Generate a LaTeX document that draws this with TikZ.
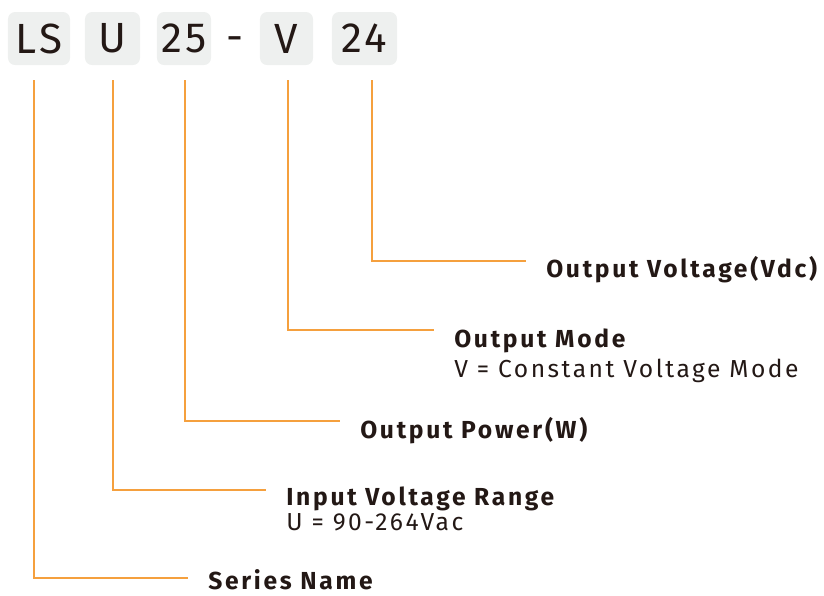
\documentclass[tikz,border=0pt]{standalone}
\usepackage{fontspec}
\setmainfont{Fira Sans}
\usetikzlibrary{positioning}
\definecolor{leadcol}{RGB}{245,160,62}
\definecolor{boxcol}{RGB}{238,240,239}
\definecolor{inkcol}{RGB}{35,24,21}

\begin{document}
\begin{tikzpicture}[
  x=0.025cm, y=-0.025cm,
  codebox/.style={rectangle, fill=boxcol, rounded corners=5pt, inner sep=0pt,
                  minimum height=1.325cm, minimum width=#1,
                  font=\fontsize{30}{30}\selectfont\addfontfeature{LetterSpace=8}, text=inkcol},
  ttl/.style={anchor=base west, inner sep=0pt, text=inkcol,
              font=\fontsize{17.5}{20}\selectfont\bfseries\addfontfeature{LetterSpace=11}},
  desc/.style={anchor=base west, inner sep=0pt, text=inkcol,
               font=\fontsize{17.5}{20}\selectfont\addfontfeature{LetterSpace=10}},
  ln/.style={draw=leadcol, line width=0.8pt, shorten <=0.375cm, shorten >=0.5cm},
]
\useasboundingbox (0,0) rectangle (824,595);

% model code
\node[codebox=1.55cm]   (ls) at (39,38.5)    {LS};
\node[codebox=1.375cm]  (u)  at (112.5,38.5) {U};
\node[codebox=1.35cm]   (pw) at (184,38.5)   {25};
\node[text=inkcol, font=\fontsize{30}{30}\selectfont] (dash) at (235,44) {-};
\node[codebox=1.325cm]  (v)  at (286.5,38.5) {V};
\node[codebox=1.625cm]  (vo) at (364.5,38.5) {24};

% corners of the leaders
\coordinate (cls) at (34,578);
\coordinate (cu)  at (113,490);
\coordinate (cpw) at (185,421);
\coordinate (cv)  at (288,330);
\coordinate (cvo) at (372,261);

% labels
\node[ttl]  (tvo) at (546,277) {Output Voltage(Vdc)};
\node[ttl]  (tv)  at (454,347) {Output Mode};
\node[desc] (dv)  at (454,377) {V = Constant Voltage Mode};
\node[ttl]  (tpw) at (360,438) {Output Power(W)};
\node[ttl]  (tu)  at (286,505) {Input Voltage Range};
\node[desc] (du)  at (286,530) {U = 90-264Vac};
\node[ttl]  (tls) at (208,589) {Series Name};

\foreach \b/\c/\t in {ls/cls/tls, u/cu/tu, pw/cpw/tpw, v/cv/tv, vo/cvo/tvo}
  \draw[ln] (\b.south -| \c) |- (\c -| \t.west);
\end{tikzpicture}
\end{document}
